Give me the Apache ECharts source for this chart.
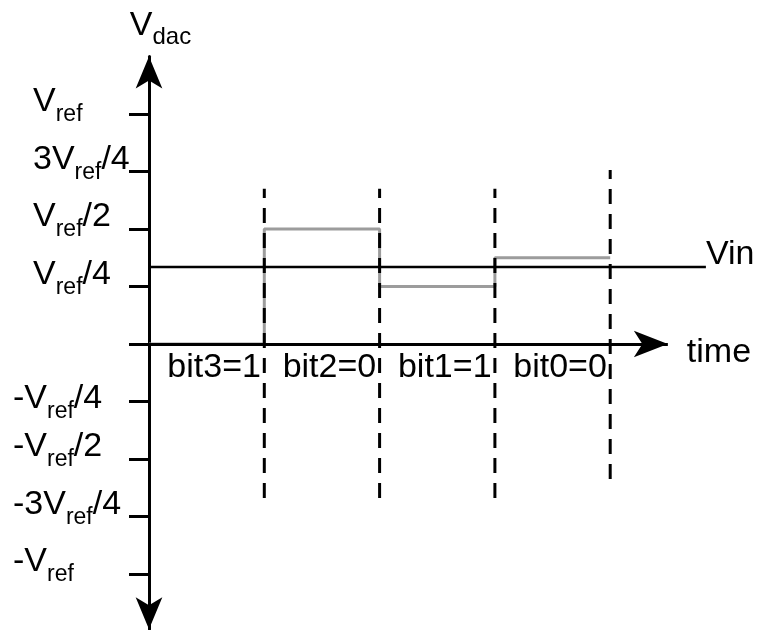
<!DOCTYPE html>
<html>
<head>
<meta charset="utf-8">
<script src="https://cdn.jsdelivr.net/npm/echarts@6/dist/echarts.min.js"></script>
<style>
  html, body { margin: 0; padding: 0; background: #fff; }
  #chart { width: 758px; height: 630px; }
</style>
</head>
<body>
<div id="chart"></div>
<script>
// time slots and DAC output (fractions of Vref)
const timeSlots = [0, 1, 2, 3, 4];
const dacLevels = [0, 0.5, 0.25, 0.375, 0.375];
const vinLevel = 0.335;
const vinEnd = 4.83;
const timeAxisEnd = 4.5;

// bit decision boundaries (dashed)
const bitBoundaries = [1, 2, 3, 4];
const dashTop = [0.675, 0.675, 0.675, 0.757];
const dashBottom = [-0.67, -0.67, -0.67, -0.587];

const bitCenters = [0.5, 1.5, 2.5, 3.5];
const bitLabels = ['bit3=1', 'bit2=0', 'bit1=1', 'bit0=0'];

const yTickValues = [-1, -0.75, -0.5, -0.25, 0, 0.25, 0.5, 0.75, 1];
const yTickLabels = ['-V_ref', '-3V_ref/4', '-V_ref/2', '-V_ref/4', '', 'V_ref/4', 'V_ref/2', '3V_ref/4', 'V_ref'];

const FONT = '"Liberation Sans", Arial, sans-serif';
const GRAY = '#9c9c9c';

function toRich(label) {
  if (!label) return '';
  const [pre, post] = label.split('_ref');
  // the -Vref/4 label sits a little lower in the original drawing
  const low = label === '-V_ref/4';
  const m = low ? 'ml' : 'm';
  const s = low ? 'sl' : 's';
  let out = pre.startsWith('-') ? '' : '{gap| }';
  out += '{' + m + '|' + pre + '}{' + s + '|ref}';
  if (post) out += '{' + m + '|' + post + '}';
  return out;
}

const richStyles = {
  m: { fontSize: 34, lineHeight: 34, fontFamily: FONT, color: '#000' },
  s: { fontSize: 23, lineHeight: 23, fontFamily: FONT, color: '#000', padding: [26, 0, 0, 0] },
  ml: { fontSize: 34, lineHeight: 34, fontFamily: FONT, color: '#000', padding: [18, 0, 0, 0] },
  sl: { fontSize: 23, lineHeight: 23, fontFamily: FONT, color: '#000', padding: [44, 0, 0, 0] },
  d: { fontSize: 24, lineHeight: 24, fontFamily: FONT, color: '#000', padding: [24, 0, 0, 0] },
  gap: { width: 20, fontSize: 34, lineHeight: 34 }
};

const chart = echarts.init(document.getElementById('chart'));

const dashedSeries = bitBoundaries.map((b, i) => ({
  type: 'line',
  data: [[b, dashBottom[i]], [b, dashTop[i]]],
  symbol: 'none',
  lineStyle: { color: '#000', width: 3, type: [15, 10] },
  z: 4
}));

chart.setOption({
  animation: false,
  backgroundColor: '#fff',
  grid: { left: 149, top: 56.5, width: 556.9, height: 572.7, outerBoundsMode: 'none', containLabel: false },
  xAxis: {
    type: 'value',
    min: 0,
    max: vinEnd,
    axisLine: { show: false },
    axisTick: { show: false },
    splitLine: { show: false },
    axisLabel: { show: false }
  },
  yAxis: {
    type: 'value',
    min: -1.24,
    max: 1.25,
    name: '{m|V}{d|dac}',
    nameLocation: 'end',
    nameGap: 14,
    nameTextStyle: {
      align: 'center', verticalAlign: 'bottom', padding: [0, 0, 0, 23],
      rich: richStyles
    },
    axisLine: {
      onZero: false,
      symbol: ['arrow', 'arrow'],
      symbolSize: [20, 32],
      symbolOffset: [0, 0],
      lineStyle: { color: '#000', width: 3 }
    },
    axisTick: {
      customValues: yTickValues,
      length: 20,
      lineStyle: { color: '#000', width: 3 }
    },
    splitLine: { show: false },
    axisLabel: {
      customValues: yTickValues.filter(v => v !== 0),
      formatter: v => toRich(yTickLabels[yTickValues.indexOf(v)]),
      align: 'left',
      margin: 136,
      padding: [0, 0, 24, 0],
      rich: richStyles
    }
  },
  series: [
    {
      // time axis with arrow
      type: 'line',
      data: [[0, 0]],
      symbol: 'none',
      z: 1,
      markLine: {
        silent: true,
        symbol: ['none', 'arrow'],
        symbolSize: [20, 34],
        lineStyle: { color: '#000', width: 3, type: 'solid' },
        label: {
          show: true,
          position: 'end',
          formatter: 'time',
          distance: 19,
          offset: [0, 9],
          fontSize: 34, fontFamily: FONT, color: '#000'
        },
        data: [[{ coord: [0, 0] }, { coord: [timeAxisEnd, 0] }]]
      }
    },
    {
      type: 'line',
      step: 'end',
      data: timeSlots.map((t, i) => [t, dacLevels[i]]),
      symbol: 'none',
      lineStyle: { color: GRAY, width: 3 },
      z: 2
    },
    {
      type: 'line',
      data: [[0, vinLevel], [vinEnd, vinLevel]],
      symbol: 'none',
      lineStyle: { color: '#000', width: 2.5 },
      endLabel: {
        show: true,
        formatter: 'Vin',
        distance: 0,
        offset: [0, -12],
        fontSize: 34, fontFamily: FONT, color: '#000'
      },
      z: 3
    },
    {
      // bit labels under the time axis
      type: 'scatter',
      data: bitCenters.map(c => [c, 0]),
      symbolSize: 0,
      itemStyle: { color: '#000', opacity: 1 },
      label: {
        show: true,
        position: 'bottom',
        distance: 7,
        offset: [7.5, 0],
        lineHeight: 34,
        formatter: p => bitLabels[p.dataIndex],
        fontSize: 34, fontFamily: FONT, color: '#000', opacity: 1
      },
      z: 5
    },
    ...dashedSeries
  ]
});
</script>
</body>
</html>
